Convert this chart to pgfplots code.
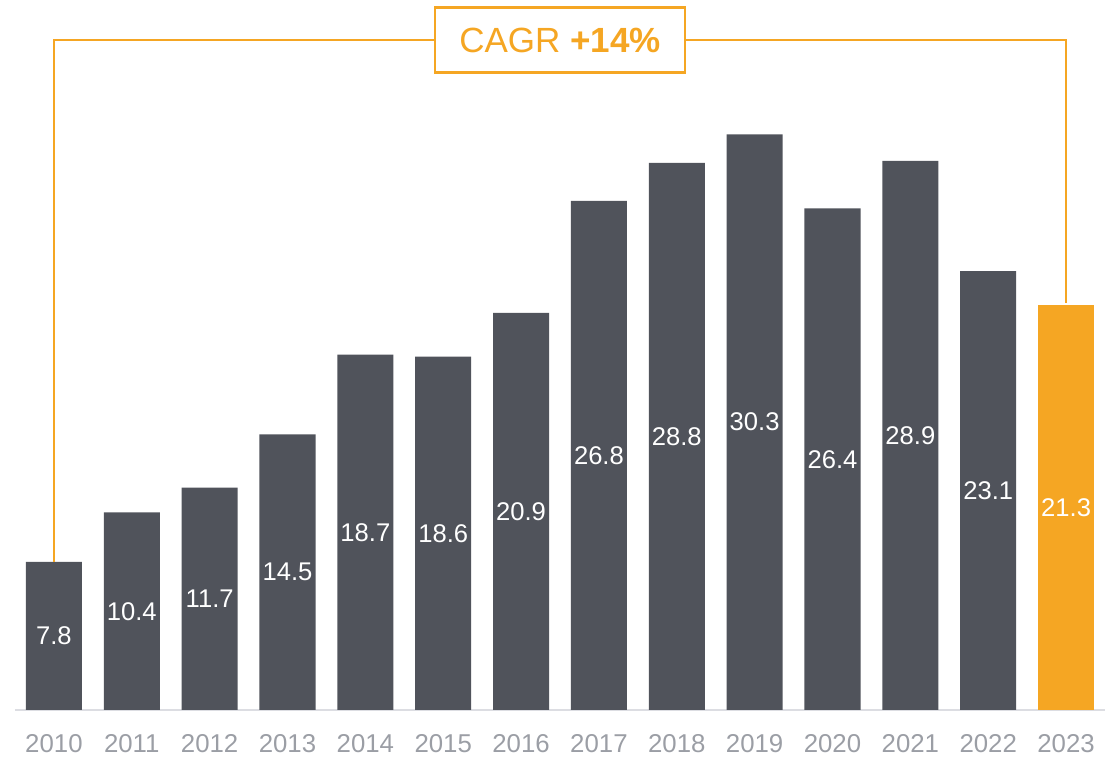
\documentclass[border=0pt]{standalone}
\usepackage{pgfplots}
\pgfplotsset{compat=1.18}
\usepackage{fontspec}
\setmainfont{Liberation Sans}
\definecolor{bardark}{HTML}{50535B}
\definecolor{barorange}{HTML}{F5A623}
\definecolor{tickgray}{HTML}{9B9EA5}
\definecolor{basegray}{HTML}{DCDDE2}
\begin{document}
\begin{tikzpicture}
\begin{axis}[
  name=ax,
  scale only axis,
  width=545pt, height=342pt,
  xmin=-0.5, xmax=13.5,
  ymin=0, ymax=36,
  clip=false,
  axis x line=bottom,
  axis y line=none,
  x axis line style={-, draw=basegray, line width=1pt},
  xtick={0,...,13},
  xticklabels={2010,2011,2012,2013,2014,2015,2016,2017,2018,2019,2020,2021,2022,2023},
  major tick length=0pt,
  xticklabel style={anchor=base, yshift=-21.5pt, text=tickgray, font=\fontsize{12.9}{15}\selectfont},
  ybar, bar width=0.72, bar shift=0pt,
  point meta=explicit symbolic,
  visualization depends on={rawy \as \rawy},
  nodes near coords,
  every node near coord/.append style={anchor=center, yshift=-\rawy*4.75pt, text=white, font=\fontsize{12.8}{14}\selectfont},
]
\addplot[fill=bardark, draw=none] coordinates {
 (0,7.8) [7.8]
 (1,10.4) [10.4]
 (2,11.7) [11.7]
 (3,14.5) [14.5]
 (4,18.7) [18.7]
 (5,18.6) [18.6]
 (6,20.9) [20.9]
 (7,26.8) [26.8]
 (8,28.8) [28.8]
 (9,30.3) [30.3]
 (10,26.4) [26.4]
 (11,28.9) [28.9]
 (12,23.1) [23.1]
};
\addplot[fill=barorange, draw=none] coordinates {
 (13,21.3) [21.3]
};
\draw[barorange, line width=1pt] (axis cs:0,7.8) -- (axis cs:0,35.26) -- (axis cs:13,35.26) -- (axis cs:13,21.4);
\node[draw=barorange, line width=1.2pt, fill=white, minimum width=125pt, minimum height=32.5pt, text=barorange, font=\fontsize{17.5}{20}\selectfont, inner sep=0pt]
  at (axis cs:6.5,35.26) {CAGR \textbf{+14\%}};
\end{axis}
\pgfresetboundingbox
\useasboundingbox ([xshift=-7.5pt,yshift=-24pt]ax.south west) rectangle ([xshift=5pt,yshift=13pt]ax.north east);
\end{tikzpicture}
\end{document}
